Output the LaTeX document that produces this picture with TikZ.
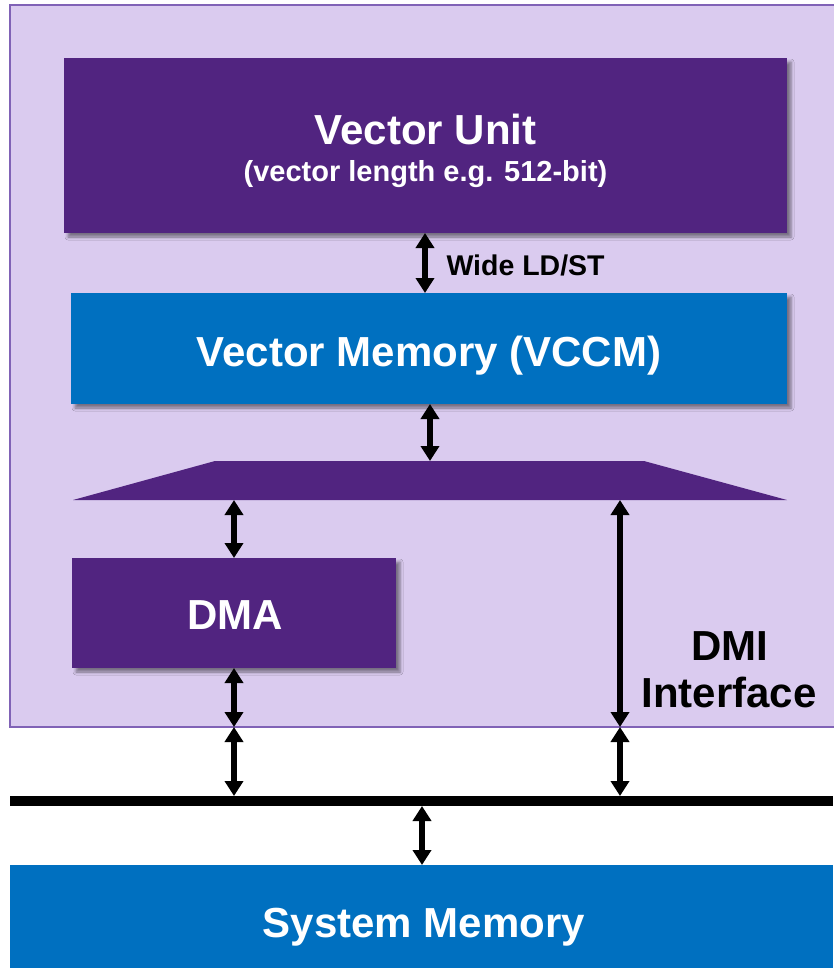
\documentclass[tikz,border=0pt]{standalone}
\usepackage{fontspec}
\setmainfont{Liberation Sans}
\usetikzlibrary{arrows.meta,shadows.blur}
\definecolor{lav}{RGB}{218,203,239}
\definecolor{lavedge}{RGB}{128,98,182}
\definecolor{vpurple}{RGB}{81,36,128}
\definecolor{vblue}{RGB}{0,112,192}
\tikzset{
  block/.style={inner sep=0pt, outer sep=0pt, anchor=north west,
    blur shadow={shadow xshift=4pt, shadow yshift=-4pt,
      shadow blur radius=3pt, shadow opacity=45}},
  plain/.style={inner sep=0pt, outer sep=0pt, anchor=north west},
  link/.style={line width=5.5pt, >={Triangle[width=18pt,length=15pt]}, <->},
  bigw/.style={anchor=base, text=white, font=\bfseries\fontsize{42}{50}\selectfont},
  smallw/.style={anchor=base, text=white, font=\bfseries\fontsize{29}{34}\selectfont},
  bigk/.style={anchor=base, text=black, font=\bfseries\fontsize{42}{50}\selectfont},
  smallk/.style={anchor=base west, text=black, font=\bfseries\fontsize{28.5}{34}\selectfont},
}
\begin{document}
\begin{tikzpicture}[x=1pt,y=-1pt]
\useasboundingbox (0,0) rectangle (833,968);

% processor frame
\node[plain, fill=lav, draw=lavedge, line width=1.2pt,
      minimum width=840pt, minimum height=722pt] (frame) at (10,5) {};

% vector unit and its memory
\node[block, fill=vpurple, minimum width=723pt, minimum height=175pt] (vu) at (64,58) {};
\node[bigw] (vutitle) at (425.5,145) {Vector Unit};
\node[smallw] (vusub) at (425.5,182) {(vector length e.g. 512-bit)};

\node[block, fill=vblue, minimum width=716pt, minimum height=111pt] (vm) at (71,293) {};
\node[bigw] (vmtitle) at (429,366) {Vector Memory (VCCM)};

% arbitration bridge
\coordinate (brT) at (0,461);
\coordinate (brB) at (0,500);
\fill[vpurple] (73,500) -- (215,461) -- (644,461) -- (787,500) -- cycle;

% DMA engine
\node[block, fill=vpurple, minimum width=324pt, minimum height=110pt] (dma) at (72,558) {};
\node[bigw] (dmatitle) at (235,629) {DMA};

% system bus and memory
\node[plain, fill=black, minimum width=823pt, minimum height=10pt] (bus) at (10,796) {};
\node[plain, fill=vblue, minimum width=823pt, minimum height=103pt] (sys) at (10,865) {};
\node[bigw] (systitle) at (424,937) {System Memory};

% labels
\node[smallk] (wide) at (443,275) {Wide LD/ST};
\node[bigk] (dmi) at (730,660) {DMI};
\node[bigk] (intf) at (729,707) {Interface};

% connections
\coordinate (xa) at (425,0);
\coordinate (xb) at (430,0);
\coordinate (xd) at (620,0);
\coordinate (xs) at (422,0);
\draw[link] (vu.south -| xa) -- (vm.north -| xa);
\draw[link] (vm.south -| xb) -- (brT -| xb);
\draw[link] (dma.north |- brB) -- (dma.north);
\draw[link] (dma.south) -- (dma.south |- frame.south);
\draw[link] (dma.south |- frame.south) -- (dma.south |- bus.north);
\draw[link] (brB -| xd) -- (frame.south -| xd);
\draw[link] (frame.south -| xd) -- (bus.north -| xd);
\draw[link] (bus.south -| xs) -- (sys.north -| xs);
\end{tikzpicture}
\end{document}
